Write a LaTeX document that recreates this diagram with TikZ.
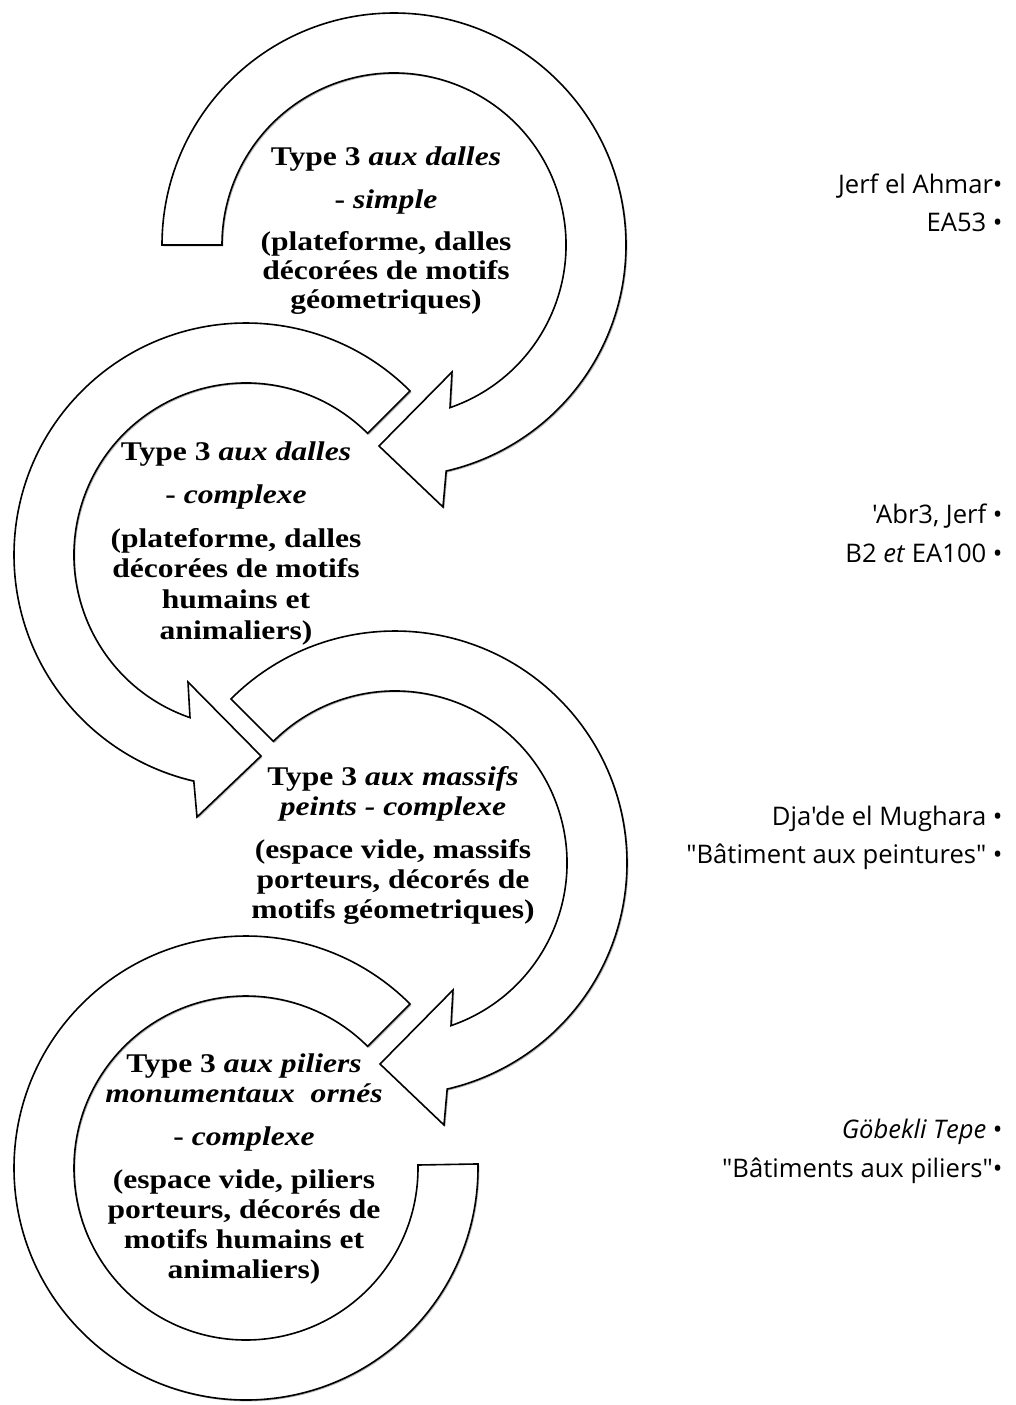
\documentclass[tikz,border=0pt]{standalone}
\usepackage{fontspec}
\newfontfamily\labelfont{Open Sans}
\newfontfamily\boxfont[FakeStretch=1.17]{Liberation Serif}
\usetikzlibrary{shadows}
\begin{document}
\begin{tikzpicture}[x=0.5pt,y=0.5pt,
  ring/.style={draw=black, fill=white, line width=0.8pt, line join=miter,
    drop shadow={shadow xshift=0.7pt, shadow yshift=-0.7pt, fill=black!35, opacity=0.8}},
  txt/.style={anchor=base, inner sep=0pt, font=\boxfont\bfseries\fontsize{13.5}{15.5}\selectfont},
  site/.style={anchor=base east, inner sep=0pt, font=\labelfont\fontsize{12.8}{15}\selectfont}]
\useasboundingbox (0,0) rectangle (1016,-1405);
\fill[white] (0,0) rectangle (1016,-1405);

\coordinate (c1) at (394,-245);
\coordinate (c2) at (246,-555);
\coordinate (c3) at (395,-863);
\coordinate (c4) at (246,-1168);

% arrow 1 (clockwise)
\begin{scope}[shift={(c1)}]
\path[ring] (180:232) arc[start angle=180,end angle=-77,radius=232]
  -- (49,-262) -- (-15,-201) -- (58,-127) -- (-71:172)
  arc[start angle=-71,end angle=180,radius=172] -- cycle;
\end{scope}
% arrow 2 (counter-clockwise)
\begin{scope}[shift={(c2)}]
\path[ring] (45:232) arc[start angle=45,end angle=257,radius=232]
  -- (-49,-262) -- (15,-201) -- (-58,-127) -- (251:172)
  arc[start angle=251,end angle=45,radius=172] -- cycle;
\end{scope}
% arrow 3 (clockwise)
\begin{scope}[shift={(c3)}]
\path[ring] (135:232) arc[start angle=135,end angle=-77,radius=232]
  -- (49,-262) -- (-15,-201) -- (58,-127) -- (-71:172)
  arc[start angle=-71,end angle=135,radius=172] -- cycle;
\end{scope}
% arrow 4 (counter-clockwise, no head)
\begin{scope}[shift={(c4)}]
\path[ring] (45:232) arc[start angle=45,end angle=361,radius=232]
  -- (361:172) arc[start angle=361,end angle=45,radius=172] -- cycle;
\end{scope}

% text of arrow 1
\node[txt] (a1l1) at (386,-165) {Type 3 \textit{aux dalles}};
\node[txt] (a1l2) at (386,-208) {- \textit{simple}};
\node[txt] (a1l3) at (386,-250) {(plateforme, dalles};
\node[txt] (a1l4) at (386,-279) {décorées de motifs};
\node[txt] (a1l5) at (386,-308) {géometriques)};
% text of arrow 2
\node[txt] (a2l1) at (236,-460) {Type 3 \textit{aux dalles}};
\node[txt] (a2l2) at (236,-503) {- \textit{complexe}};
\node[txt] (a2l3) at (236,-547) {(plateforme, dalles};
\node[txt] (a2l4) at (236,-577) {décorées de motifs};
\node[txt] (a2l5) at (236,-608) {humains et};
\node[txt] (a2l6) at (236,-639) {animaliers)};
% text of arrow 3
\node[txt] (a3l1) at (393,-785) {Type 3 \textit{aux massifs}};
\node[txt] (a3l2) at (393,-815) {\textit{peints - complexe}};
\node[txt] (a3l3) at (393,-858) {(espace vide, massifs};
\node[txt] (a3l4) at (393,-888) {porteurs, décorés de};
\node[txt] (a3l5) at (393,-918) {motifs géometriques)};
% text of arrow 4
\node[txt] (a4l1) at (244,-1072) {Type 3 \textit{aux piliers}};
\node[txt] (a4l2) at (244,-1102) {\textit{monumentaux\ \ ornés}};
\node[txt] (a4l3) at (244,-1145) {- \textit{complexe}};
\node[txt] (a4l4) at (244,-1188) {(espace vide, piliers};
\node[txt] (a4l5) at (244,-1218) {porteurs, décorés de};
\node[txt] (a4l6) at (244,-1248) {motifs humains et};
\node[txt] (a4l7) at (244,-1278) {animaliers)};

% sites
\node[site] (s1a) at (1003,-193) {Jerf el Ahmar•};
\node[site] (s1b) at (1003,-231) {EA53 •};
\node[site] (s2a) at (1003,-523) {'Abr3, Jerf •};
\node[site] (s2b) at (1003,-562) {B2 \textit{et} EA100 •};
\node[site] (s3a) at (1003,-825) {Dja'de el Mughara •};
\node[site] (s3b) at (1003,-863) {"Bâtiment aux peintures" •};
\node[site] (s4a) at (1003,-1138) {\textit{Göbekli Tepe} •};
\node[site] (s4b) at (1003,-1177) {"Bâtiments aux piliers"•};
\end{tikzpicture}
\end{document}
